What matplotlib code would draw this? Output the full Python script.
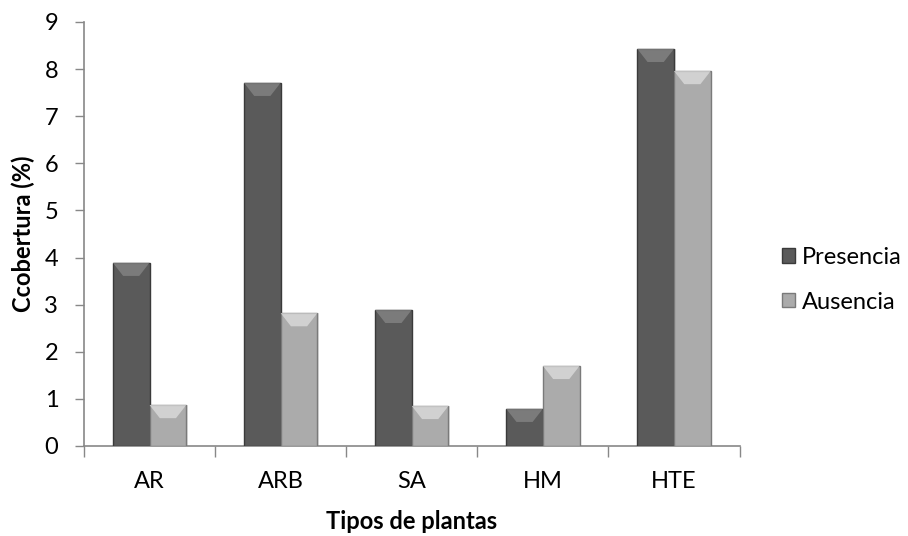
import numpy as np
import matplotlib.pyplot as plt
from matplotlib.patches import Polygon

plt.rcParams['font.family'] = ['Lato', 'DejaVu Sans']

# Cobertura por tipo de planta
categorias = ['AR', 'ARB', 'SA', 'HM', 'HTE']
presencia = [3.89, 7.71, 2.89, 0.79, 8.43]
ausencia = [0.87, 2.82, 0.85, 1.70, 7.96]

fig = plt.figure(figsize=(9.08, 5.36), dpi=100)
ax = fig.add_axes([0.0925, 0.168, 0.722, 0.791])

x = np.arange(len(categorias))
width = 0.28
series = [
    (presencia, -width / 2, '#5a5a5a', '#3a3a3a', '#8a8a8a', 'Presencia'),
    (ausencia, width / 2, '#ababab', '#7a7a7a', '#e2e2e2', 'Ausencia'),
]

bevel = 0.28  # bevel depth in data units
for vals, off, color, edge, light, label in series:
    bars = ax.bar(x + off, vals, width, color=color, edgecolor=edge,
                  linewidth=1.0, label=label, zorder=3)
    for bar in bars:
        x0 = bar.get_x()
        w = bar.get_width()
        h = bar.get_height()
        # soft shadow to the right
        ax.bar(x0 + w / 2 + 0.012, h + 0.03, w, bottom=-0.03, color='#000000',
               alpha=0.12, linewidth=0, zorder=2)
        # top bevel highlight
        d = min(bevel, h / 2)
        top = Polygon([[x0, h], [x0 + w, h], [x0 + w * 0.72, h - d],
                       [x0 + w * 0.28, h - d]], closed=True,
                      facecolor=light, edgecolor='none', alpha=0.7, zorder=4)
        ax.add_patch(top)

ax.set_xlim(-0.5, len(categorias) - 0.5)
ax.set_ylim(0, 9)
ax.set_yticks(range(0, 10))
ax.set_xticks(x)
ax.set_xticklabels(categorias)
ax.set_xticks(np.arange(-0.5, len(categorias), 1), minor=True)

ax.tick_params(axis='x', which='major', length=0, labelsize=17, pad=18,
               colors='#000000')
ax.tick_params(axis='x', which='minor', length=8, width=1, color='#888888')
ax.tick_params(axis='y', length=6.5, width=1, color='#888888', labelsize=17,
               pad=12)

for s in ['top', 'right']:
    ax.spines[s].set_visible(False)
for s in ['left', 'bottom']:
    ax.spines[s].set_color('#888888')
    ax.spines[s].set_linewidth(1.2)

ax.set_xlabel('Tipos de plantas', fontsize=17, fontweight='bold', labelpad=13)
ax.set_ylabel('Ccobertura (%)', fontsize=17, fontweight='bold', labelpad=7)

handles, labels = ax.get_legend_handles_labels()
ax.legend(handles, labels, loc='center left', bbox_to_anchor=(1.064, 0.392),
          frameon=False, fontsize=17, handlelength=0.55, handleheight=0.55,
          handletextpad=0.3, labelspacing=1.0, borderpad=0, borderaxespad=0)

fig.savefig('out.png', dpi=100, facecolor='white')
